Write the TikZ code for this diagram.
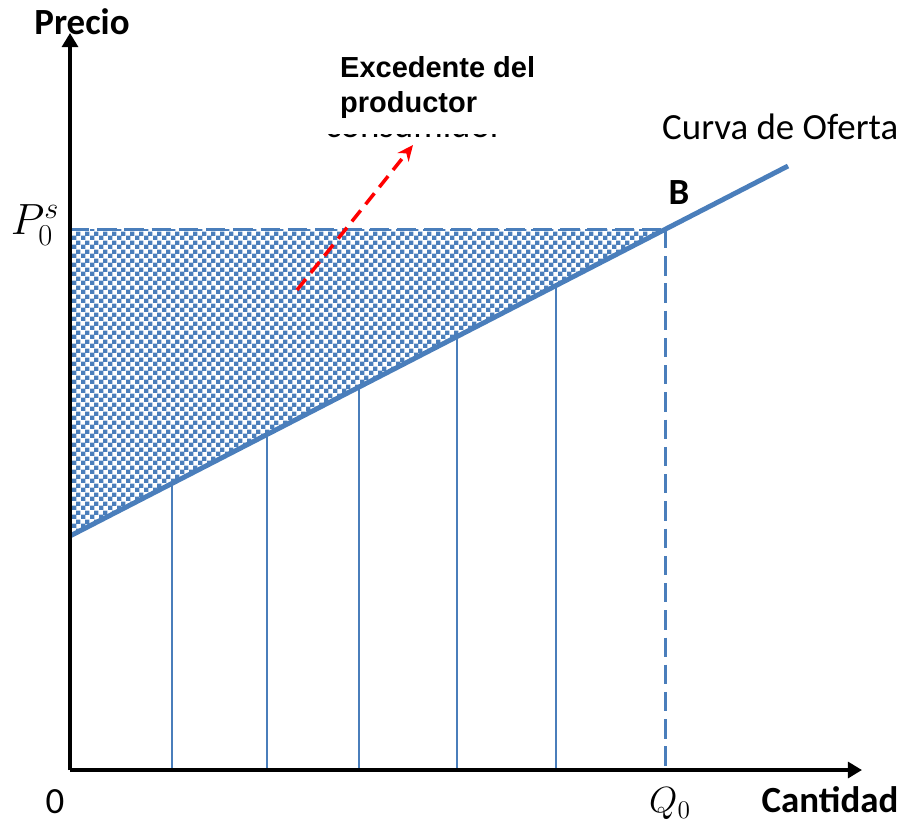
\documentclass[tikz,border=0pt]{standalone}
\usepackage{fontspec}
\setmainfont{Carlito}
\newfontfamily\arialfont{Liberation Sans}
\usepackage{amsmath}
\usetikzlibrary{positioning, arrows.meta, calc, patterns.meta}

\definecolor{ofertablue}{RGB}{74,126,187}

\tikzdeclarepattern{
  name=checks, type=uncolored,
  bottom left={(0pt,0pt)}, top right={(5.2pt,5.2pt)}, tile size={(5.2pt,5.2pt)},
  code={\fill (0pt,0pt) rectangle (2.7pt,2.7pt);
        \fill (2.6pt,2.6pt) rectangle (5.2pt,5.2pt);}
}

\begin{document}
\begin{tikzpicture}[x=0.02cm, y=-0.02cm,
    axis/.style={-{Triangle[length=8pt, width=9pt]}, line width=2.2pt},
    dashblue/.style={ofertablue, line width=1.7pt, dash pattern=on 11pt off 4.5pt},
    bigfont/.style={font=\fontsize{21}{24}\selectfont},
    bigbold/.style={font=\fontsize{21}{24}\selectfont\bfseries}]

    \useasboundingbox (0,0) rectangle (909,829);

    % Points
    \coordinate (O) at (70,770);
    \coordinate (yend) at (70,33);
    \coordinate (xend) at (862,770);
    \coordinate (s0) at (70,536);
    \coordinate (B) at (665,229);
    \coordinate (s1) at (788,166);
    \coordinate (p0) at (70,229);
    \coordinate (q0) at (665,770);

    % Shaded area
    \fill[pattern={checks}, pattern color=ofertablue] (p0) -- (B) -- (s0) -- cycle;

    % Hidden text behind the label
    \begin{scope}
      \clip (300,134) rectangle (540,138);
      \node[bigfont, anchor=base west, inner sep=0pt, text height=1pt, text depth=0pt] (cons) at (325,137.5) {consumidor};
    \end{scope}

    % Vertical lines under the curve
    \foreach \x/\y in {172/484, 267/435, 359/387, 457/337, 556/286}
        \draw[ofertablue, line width=0.7pt] (\x,770) -- (\x,\y);

    % Dashed lines
    \draw[dashblue] (p0) -- (B);
    \draw[dashblue] (B) -- (q0);

    % Supply curve
    \draw[ofertablue, line width=2.8pt] (s0) -- (s1);

    % Axes
    \draw[axis] (O) -- (yend);
    \draw[axis] (O) -- (xend);

    % Labels
    \node[bigbold] (precio) at (82,22) {Precio};
    \node[bigbold] (cantidad) at (830,800) {Cantidad};
    \node[bigfont] (cero) at (55,802) {0};
    \node[font=\fontsize{22}{24}\selectfont] (qlab) at (670,804) {$Q_0$};
    \node[font=\fontsize{25}{28}\selectfont] (plab) at (35,225) {$P_0^s$};
    \node[bigfont, anchor=west] (curva) at (656,127) {Curva de Oferta};
    \node[bigbold] (blab) at (679,193) {B};

    % Producer surplus
    \node[font=\arialfont\fontsize{16.5}{20}\selectfont\bfseries, align=left, anchor=north west] (exced) at (334,50) {Excedente del\\productor};
    \coordinate (ar0) at (297,290);
    \coordinate (ar1) at (413,145);
    \draw[red, line width=2pt, dash pattern=on 8pt off 4.5pt, -{Stealth[length=9pt, width=8pt]}] (ar0) -- (ar1);

\end{tikzpicture}
\end{document}
